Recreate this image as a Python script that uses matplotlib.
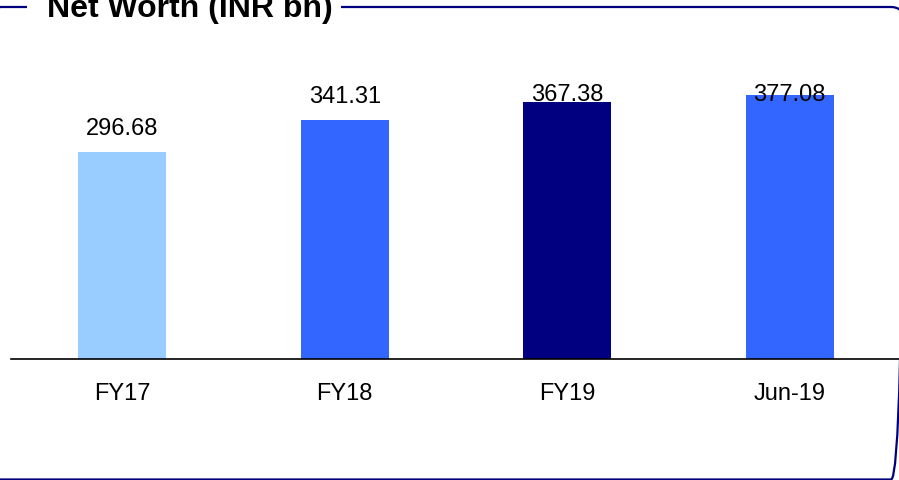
import matplotlib
matplotlib.use("Agg")
import matplotlib.pyplot as plt
from matplotlib.patches import FancyBboxPatch, Rectangle

categories = ["FY17", "FY18", "FY19", "Jun-19"]
values = [296.68, 341.31, 367.38, 377.08]
labels = ["296.68", "341.31", "367.38", "377.08"]
colors = ["#99CCFF", "#3366FF", "#000080", "#3366FF"]
title = "Net Worth (INR bn)"

plt.rcParams["font.family"] = ["Liberation Sans", "DejaVu Sans"]

W, H = 899, 480
fig = plt.figure(figsize=(W / 100, H / 100), dpi=100)

ax = fig.add_axes([11 / W, 121 / H, 890 / W, 299 / H])
x = range(len(categories))
ax.bar(x, values, width=0.395, color=colors, zorder=2)
ax.set_xlim(-0.5, len(categories) - 0.5)
ax.set_ylim(0, 427.8)
for s in ["top", "left", "right"]:
    ax.spines[s].set_visible(False)
ax.spines["bottom"].set_linewidth(1.2)
ax.spines["bottom"].set_color("black")
ax.set_yticks([])
ax.set_xticks(list(x))
ax.set_xticklabels(categories, fontsize=17)
ax.tick_params(axis="x", length=0, pad=17)

for i, (v, lab) in enumerate(zip(values, labels)):
    ax.text(i, min(v + 33, 377.5), lab, ha="center", va="center",
            fontsize=17, color="black", zorder=3)

# overlay in pixel units (y downward) for the rounded frame and title
ov = fig.add_axes([0, 0, 1, 1], zorder=10)
ov.set_xlim(0, W)
ov.set_ylim(H, 0)
ov.axis("off")
ov.patch.set_alpha(0)
frame = FancyBboxPatch((-12, 7), 915, 472.5, boxstyle="round,pad=0,rounding_size=12",
                       fill=False, edgecolor="#000080", linewidth=1.6, clip_on=False)
ov.add_patch(frame)
ov.add_patch(Rectangle((27, -5), 314, 25, facecolor="white", edgecolor="none"))
ov.text(47, 17, title, fontsize=23, fontweight="bold",
        ha="left", va="baseline", color="black")

fig.savefig("out.png", dpi=100)
